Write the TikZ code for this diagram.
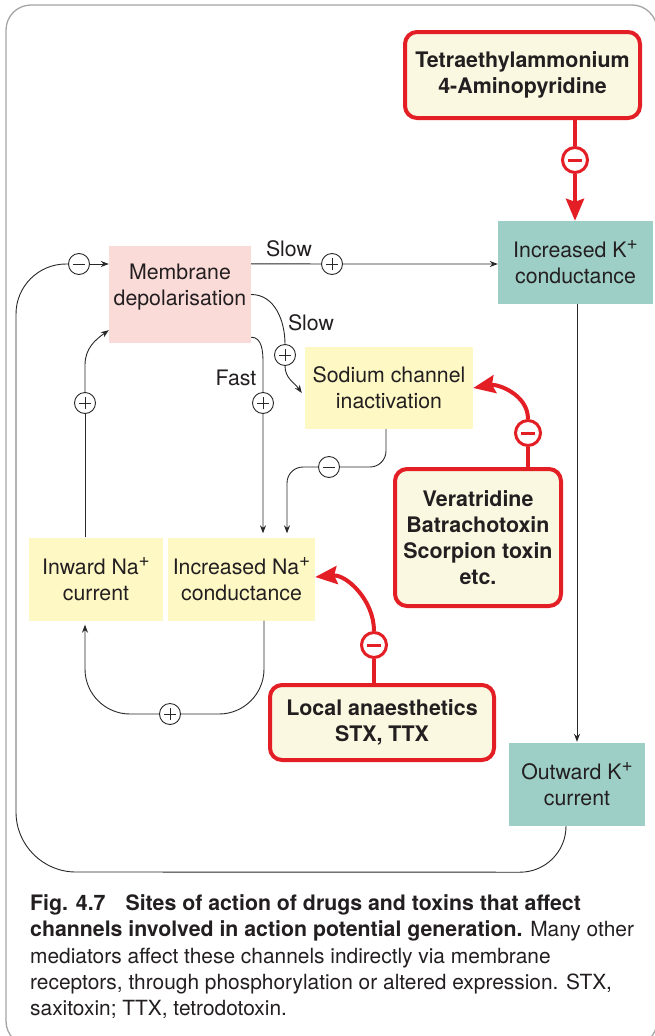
\documentclass[tikz,border=0pt]{standalone}
\usepackage{fontspec}
\setmainfont{TeX Gyre Heros}
\usetikzlibrary{arrows.meta,calc}
\definecolor{pinkc}{RGB}{250,219,216}
\definecolor{yelc}{RGB}{254,248,197}
\definecolor{tealc}{RGB}{158,207,199}
\definecolor{redc}{RGB}{227,30,36}
\definecolor{drugc}{RGB}{250,248,225}
\definecolor{linec}{RGB}{40,40,40}
\definecolor{framec}{RGB}{165,165,165}
\definecolor{txtc}{RGB}{35,31,32}
\newcommand{\supplus}{\raisebox{0.38em}{\fontsize{19}{19}\selectfont +}}
\newcommand{\capbold}[1]{{\fontsize{21.3}{26}\selectfont\bfseries #1}}
\tikzset{
  box/.style={rectangle, inner sep=0pt, align=center, text=txtc, font=\fontsize{21.3}{26}\selectfont},
  pinkbox/.style={box, fill=pinkc},
  yelbox/.style={box, fill=yelc},
  tealbox/.style={box, fill=tealc},
  drugbox/.style={box, fill=drugc, draw=redc, line width=4pt, rounded corners=12pt, font=\fontsize{21.4}{26}\selectfont\bfseries},
  lbl/.style={text=txtc, font=\fontsize{21.3}{26}\selectfont, inner sep=0pt},
  captxt/.style={text=txtc, font=\fontsize{20.9}{26}\selectfont, inner sep=0pt, anchor=base west},
  conn/.style={draw=linec, line width=0.9pt},
  arr/.style={conn, -{Stealth[length=8pt,width=6pt]}},
  redl/.style={draw=redc, line width=4pt},
  redarr/.style={redl, -{Stealth[length=22pt,width=18pt,inset=3pt]}},
  pcirc/.style={circle, draw=linec, fill=white, line width=0.9pt, minimum size=21pt, inner sep=0pt,
    path picture={\draw[linec, line width=1pt]
      ([xshift=-6pt]path picture bounding box.center) -- ([xshift=6pt]path picture bounding box.center)
      ([yshift=-6pt]path picture bounding box.center) -- ([yshift=6pt]path picture bounding box.center);}},
  mcirc/.style={circle, draw=linec, fill=white, line width=0.9pt, minimum size=21pt, inner sep=0pt,
    path picture={\draw[linec, line width=1pt]
      ([xshift=-6pt]path picture bounding box.center) -- ([xshift=6pt]path picture bounding box.center);}},
  rcirc/.style={circle, draw=redc, fill=white, line width=3pt, minimum size=25pt, inner sep=0pt,
    path picture={\draw[redc, line width=3pt]
      ([xshift=-7pt]path picture bounding box.center) -- ([xshift=7pt]path picture bounding box.center);}},
}
\begin{document}
\begin{tikzpicture}[x=1pt,y=1pt]
\useasboundingbox (0,0) rectangle (655,-1036);
\fill[white] (0,0) rectangle (655,-1036);
\draw[framec, line width=1.3pt, rounded corners=25pt] (6,-5) rectangle (657,-1046);

% boxes
\node[drugbox, minimum width=235pt, minimum height=86pt] (tea) at (522.5,-75) {Tetraethylammonium\\4-Aminopyridine};
\node[tealbox, minimum width=155pt, minimum height=83pt] (incK) at (575.5,-262.5) {Increased K\supplus\\conductance};
\node[pinkbox, minimum width=142pt, minimum height=97pt] (mem) at (180,-294.5) {};
\node[lbl, align=center] (memt) at (180,-287) {Membrane\\depolarisation};
\node[yelbox, minimum width=168pt, minimum height=82pt] (sod) at (389,-388) {Sodium channel\\inactivation};
\node[yelbox, minimum width=134pt, minimum height=83pt] (inNa) at (96,-579) {Inward Na\supplus\\current};
\node[yelbox, minimum width=147pt, minimum height=83pt] (incNa) at (241.5,-579) {Increased Na\supplus\\conductance};
\node[drugbox, minimum width=166pt, minimum height=137pt] (ver) at (478,-537.5) {Veratridine\\Batrachotoxin\\Scorpion toxin\\etc.};
\node[drugbox, minimum width=224pt, minimum height=75pt] (loc) at (382,-722.5) {Local anaesthetics\\STX, TTX};
\node[tealbox, minimum width=136pt, minimum height=83pt] (outK) at (577,-784.5) {Outward K\supplus\\current};

% circles
\node[pcirc] (p1) at (332,-264) {};
\node[pcirc] (p2) at (285,-355) {};
\node[pcirc] (p3) at (263,-403) {};
\node[pcirc] (p4) at (85,-403) {};
\node[pcirc] (p5) at (170,-714) {};
\node[mcirc] (m1) at (79,-264) {};
\node[mcirc] (m2) at (329,-467) {};
\node[rcirc] (r1) at (575,-160) {};
\node[rcirc] (r2) at (528,-433) {};
\node[rcirc] (r3) at (374,-645) {};

% labels
\node[lbl] (slow1) at (289,-249) {Slow};
\node[lbl] (slow2) at (311,-323) {Slow};
\node[lbl] (fast) at (236,-378) {Fast};

% black connectors
\draw[arr] ([yshift=-18pt]mem.north east) -- (p1) -- (p1 -| incK.west);
\draw[arr] (m1) -- (m1 -| mem.west);
\draw[conn] ([xshift=-11pt]outK.south) arc[start angle=0,end angle=-90,radius=46pt]
  -- (76,-872) arc[start angle=270,end angle=180,radius=60pt]
  -- (16,-314) arc[start angle=180,end angle=90,radius=50pt] -- (m1);
\draw[conn] (mem.east) to[out=0,in=90] (p2);
\draw[arr] (p2) to[out=-90,in=125] ([shift={(-3pt,-5pt)}]sod.west);
\coordinate (fbend) at (263,-363);
\draw[arr, shorten >=4pt] ([yshift=6pt]mem.south east) to[out=0,in=90] (fbend) -- (p3) -- (p3 |- incNa.north);
\draw[conn, rounded corners=16pt] ([xshift=-3pt]sod.south) |- (m2);
\draw[arr, rounded corners=16pt, shorten >=4pt] (m2) -| ([xshift=45.5pt]incNa.north);
\coordinate (ibend) at (85,-365);
\draw[conn] ([xshift=-11pt]inNa.north) -- (p4);
\draw[arr] (p4) -- (ibend) to[out=90,in=215] ([yshift=13pt]mem.south west);
\draw[conn, rounded corners=45pt] ([xshift=22.5pt]incNa.south) |- (p5);
\draw[arr, rounded corners=45pt, shorten >=4pt] (p5) -| ([xshift=-11pt]inNa.south);
\draw[arr, shorten >=1pt] ([xshift=1.5pt]incK.south) -- ([xshift=1.5pt]incK.south |- outK.north);

% red connectors
\draw[redl] ([xshift=52.5pt]tea.south) -- (r1);
\draw[redarr] (r1) -- (r1 |- incK.north);
\draw[redl] ([xshift=50pt]ver.north) -- (r2);
\draw[redarr] (r2) to[out=90,in=10] (sod.east);
\draw[redl] ([xshift=-8pt]loc.north) -- (r3);
\draw[redarr] (r3) to[out=90,in=5] ([yshift=2pt]incNa.east);

% caption
\node[captxt] (c1) at (30,-910) {\capbold{Fig. 4.7\hspace{20pt}Sites of action of drugs and toxins that affect}};
\node[captxt] (c2) at (30,-936) {\capbold{channels involved in action potential generation.} Many other};
\node[captxt] (c3) at (30,-963) {mediators affect these channels indirectly via membrane};
\node[captxt] (c4) at (30,-989) {receptors, through phosphorylation or altered expression. STX,};
\node[captxt] (c5) at (30,-1015) {saxitoxin; TTX, tetrodotoxin.};
\end{tikzpicture}
\end{document}
